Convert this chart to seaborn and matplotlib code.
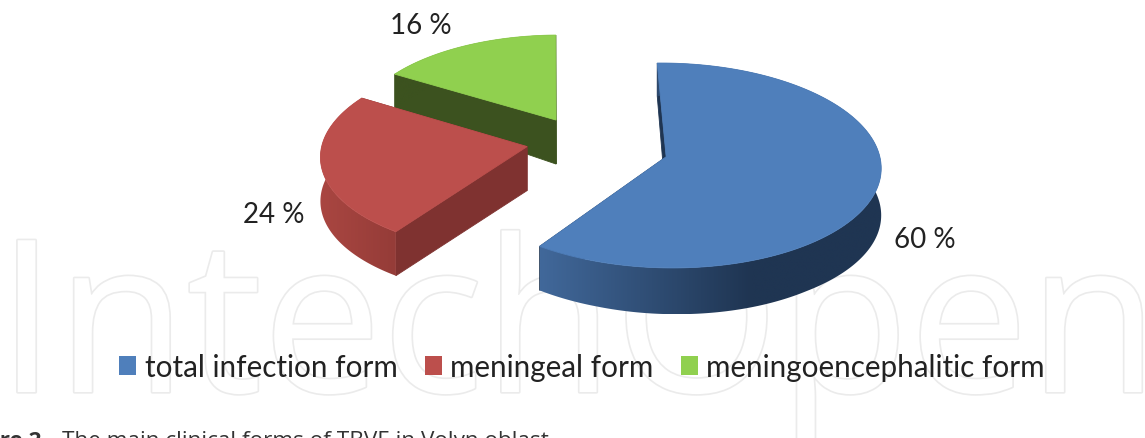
import numpy as np
import matplotlib
matplotlib.use("Agg")
import matplotlib.pyplot as plt
import matplotlib.patheffects as pe
from matplotlib.patches import Patch, Polygon
from matplotlib.colors import to_rgb
import seaborn as sns

# ---- data ----
categories = ["total infection form", "meningeal form", "meningoencephalitic form"]
shares = [60, 24, 16]
labels = ["60 %", "24 %", "16 %"]

# ---- style ----
top_colors = ["#4f7fbb", "#bc4f4c", "#90d04f"]
cut_colors = ["#1f3552", "#7f3230", "#3c521f"]
wall_stops = [([540, 750, 885], ["#41689a", "#1f3552", "#1f3552"]),
              ([315, 395], ["#ab4742", "#953c38"]),
              ([385, 565], ["#3c521f", "#3c521f"])]
offsets = [(0.325, -0.10), (-0.322, 0.0), (-0.191, 0.269)]
radius = [0.99, 0.96, 0.95]
START = 91

CX, CY, RX, RY, K = 596, 147.6, 214, 101, 0.085

sns.set_theme(style="white")
plt.rcParams["font.family"] = ["Lato", "DejaVu Sans"]


def project(u, v):
    w = 1 + K * v
    return CX + RX * u / w, CY - RY * v / w


def depth(u, v):
    return (44 + 3 * np.clip(u, 0, 1.3) / 1.3
            + 8 * np.clip(-v - 0.9, 0, None)
            - 20 * np.clip(v - 0.3, 0, None))


fig, ax = plt.subplots(figsize=(11.45, 4.39), dpi=100)
ax.set_position([0, 0, 1, 1])
ax.axis("off")

# watermark
ax.text(-3, 393, "IntechOpen", fontsize=153, color="white", family="Open Sans",
        va="baseline", ha="left", zorder=1, clip_on=False,
        path_effects=[pe.Stroke(linewidth=2.4, foreground="#ebebeb"), pe.Normal()])

fractions = np.array(shares) / sum(shares)
ends = START - 360 * np.cumsum(fractions)
starts = ends + 360 * fractions
palette = sns.color_palette(top_colors)

# painter's order: far slices first
for i in [2, 1, 0]:
    ox, oy = offsets[i]
    th = np.radians(np.linspace(starts[i], ends[i], 240))
    u, v = ox + radius[i] * np.cos(th), oy + radius[i] * np.sin(th)
    x, y = project(u, v)
    ax0, ay0 = project(ox, oy)
    dv = depth(u, v)
    d0 = depth(ox, oy)
    base = 3 + (2 - i) * 3

    # radial cut faces
    for k in (0, -1):
        poly = [(ax0, ay0), (x[k], y[k]), (x[k], y[k] + dv[k]), (ax0, ay0 + d0)]
        ax.fill(*zip(*poly), color=cut_colors[i], lw=0.6, zorder=base)

    # outer wall, shaded along x
    xs, cs = wall_stops[i]
    rgb = np.array([to_rgb(c) for c in cs])
    xgrid = np.linspace(x.min(), x.max(), 256)
    grad = np.stack([np.interp(xgrid, xs, rgb[:, c]) for c in range(3)], axis=-1)[None, ...]
    outline = np.r_[np.c_[x, y], np.c_[x, y + dv][::-1]]
    wall = Polygon(outline, closed=True, transform=ax.transData, facecolor="none", edgecolor="none")
    ax.add_patch(wall)
    im = ax.imshow(grad, extent=(x.min(), x.max(), (y + dv).max(), y.min()), aspect="auto",
                   zorder=base + 1, interpolation="bilinear")
    im.set_clip_path(wall)

    # top face
    ax.fill(np.r_[ax0, x], np.r_[ay0, y], color=palette[i], lw=0.6, zorder=base + 2)

ax.set_xlim(0, 1145)
ax.set_ylim(439, 0)

# percentage labels
label_xy = [(925, 240), (274, 215), (421, 26)]
for txt, (lx, ly) in zip(labels, label_xy):
    ax.text(lx, ly, txt, fontsize=20, color="#222222", ha="center", va="center", zorder=20)

# legend
handles = [Patch(facecolor=c, edgecolor="none") for c in palette]
ax.legend(handles, categories, ncol=3, loc="center", bbox_to_anchor=(582 / 1145, 1 - 368 / 439),
          frameon=False, fontsize=21.3, labelcolor="#222222", handlelength=0.575, handleheight=0.62,
          handletextpad=0.3, columnspacing=0.91, borderpad=0, borderaxespad=0).set_zorder(20)

# cropped caption
cap_y = 447
ax.text(48, cap_y, "Figure 2.", fontsize=16.2, fontweight="bold", color="#333333",
        family="Open Sans", ha="right", va="baseline", zorder=20)
ax.text(62, cap_y, "The main clinical forms of TBVE in Volyn oblast", fontsize=16.2, color="#333333",
        family="Open Sans", ha="left", va="baseline", zorder=20)

fig.savefig("out.png", dpi=100, facecolor="white")
